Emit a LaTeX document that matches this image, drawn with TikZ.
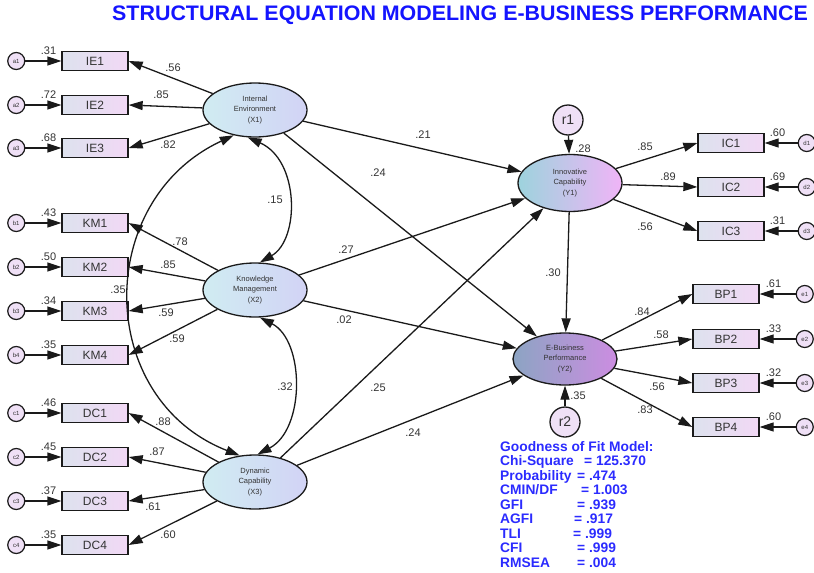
\documentclass[tikz,border=0pt]{standalone}
\usepackage{fontspec}
\setmainfont{Liberation Sans}
\usetikzlibrary{arrows.meta}
\usetikzlibrary{positioning}
\usetikzlibrary{shapes.geometric}
\definecolor{pathgrey}{HTML}{1A1A1A}
\definecolor{textgrey}{HTML}{333333}
\definecolor{exoleft}{HTML}{D0ECF2}
\definecolor{exoright}{HTML}{D2D3F5}
\definecolor{yoneleft}{HTML}{9DD3DD}
\definecolor{yoneright}{HTML}{F0B4F7}
\definecolor{ytwoleft}{HTML}{8CA4C3}
\definecolor{ytworight}{HTML}{CC8DE1}
\definecolor{itemleft}{HTML}{DDE2EE}
\definecolor{itemright}{HTML}{F2D8F5}
\definecolor{errfill}{HTML}{EFE0F6}
\definecolor{titleblue}{HTML}{1414FF}
\definecolor{fitblue}{HTML}{2B2BFF}

\begin{document}
\begin{tikzpicture}[
  x=1pt, y=-1pt,
  node distance=36pt,
  latent/.style={ellipse, draw=pathgrey, line width=1.3pt,
    minimum width=104pt, minimum height=54pt, inner sep=0pt,
    align=center, text=textgrey, font=\fontsize{7.5}{10.5}\selectfont},
  exo/.style={latent, left color=exoleft, right color=exoright},
  item/.style={rectangle, draw=pathgrey, line width=1.3pt,
    minimum width=66pt, minimum height=19pt, inner sep=0pt,
    left color=itemleft, right color=itemright,
    text=textgrey, font=\fontsize{12}{12}\selectfont},
  err/.style={circle, draw=pathgrey, line width=1.2pt, fill=errfill,
    minimum size=17pt, inner sep=0pt, text=textgrey,
    font=\fontsize{6}{6}\selectfont},
  resid/.style={circle, draw=pathgrey, line width=1.3pt, fill=errfill,
    minimum size=30pt, inner sep=0pt, text=textgrey,
    font=\fontsize{14}{14}\selectfont},
  arrow/.style={-{Triangle[length=14pt,width=9pt]}, line width=1.3pt, draw=pathgrey},
  covar/.style={{Triangle[length=14pt,width=9pt]}-{Triangle[length=14pt,width=9pt]},
    line width=1.3pt, draw=pathgrey},
  coef/.style={inner sep=0pt, text=textgrey, font=\fontsize{11}{11}\selectfont},
  fit/.style={inner sep=0pt, anchor=north west, align=left, text=fitblue,
    font=\fontsize{13.8}{14.5}\selectfont\bfseries},
]
\useasboundingbox (0,0) rectangle (814,573);

% === Title ===
\node[anchor=west, inner sep=0pt, text=titleblue, font=\fontsize{21}{21}\selectfont\bfseries]
  (title) at (112,15) {\scalebox{1.02}[1]{STRUCTURAL EQUATION MODELING E-BUSINESS PERFORMANCE}};

% === Latent variables ===
\node[exo] (X1) at (255,110) {Internal\\Environment\\(X1)};
\node[exo] (X2) at (255,290) {Knowledge\\Management\\(X2)};
\node[exo] (X3) at (255,482) {Dynamic\\Capability\\(X3)};
\node[latent, left color=yoneleft, right color=yoneright, minimum height=57pt]
  (Y1) at (570,183) {Innovative\\Capability\\(Y1)};
\node[latent, shading angle=120, left color=ytwoleft, right color=ytworight, minimum height=52pt]
  (Y2) at (565,359) {E-Business\\Performance\\(Y2)};

\node[resid] (r1) at (568,120) {r1};
\node[resid] (r2) at (565,422) {r2};

% === Indicators: Internal Environment ===
\node[item] (IE1) at (95,61) {IE1};
\node[item] (IE2) at (95,105) {IE2};
\node[item] (IE3) at (95,148) {IE3};
\node[err, left=36pt of IE1] (a1) {a1};
\node[err, left=36pt of IE2] (a2) {a2};
\node[err, left=36pt of IE3] (a3) {a3};

% === Indicators: Knowledge Management ===
\node[item] (KM1) at (95,223) {KM1};
\node[item] (KM2) at (95,267) {KM2};
\node[item] (KM3) at (95,311) {KM3};
\node[item] (KM4) at (95,355) {KM4};
\node[err, left=36pt of KM1] (b1) {b1};
\node[err, left=36pt of KM2] (b2) {b2};
\node[err, left=36pt of KM3] (b3) {b3};
\node[err, left=36pt of KM4] (b4) {b4};

% === Indicators: Dynamic Capability ===
\node[item] (DC1) at (95,413) {DC1};
\node[item] (DC2) at (95,457) {DC2};
\node[item] (DC3) at (95,501) {DC3};
\node[item] (DC4) at (95,545) {DC4};
\node[err, left=36pt of DC1] (c1) {c1};
\node[err, left=36pt of DC2] (c2) {c2};
\node[err, left=36pt of DC3] (c3) {c3};
\node[err, left=36pt of DC4] (c4) {c4};

% === Indicators: Innovative Capability ===
\node[item] (IC1) at (731,143) {IC1};
\node[item] (IC2) at (731,187) {IC2};
\node[item] (IC3) at (731,231) {IC3};
\node[err, right=33pt of IC1] (d1) {d1};
\node[err, right=33pt of IC2] (d2) {d2};
\node[err, right=33pt of IC3] (d3) {d3};

% === Indicators: E-Business Performance ===
\node[item] (BP1) at (726,294) {BP1};
\node[item] (BP2) at (726,339) {BP2};
\node[item] (BP3) at (726,383) {BP3};
\node[item] (BP4) at (726,427) {BP4};
\node[err, right=36pt of BP1] (e1) {e1};
\node[err, right=36pt of BP2] (e2) {e2};
\node[err, right=36pt of BP3] (e3) {e3};
\node[err, right=36pt of BP4] (e4) {e4};

% === Measurement arrows ===
\draw[arrow] (X1) -- (IE1.east);
\draw[arrow] (X1) -- (IE2.east);
\draw[arrow] (X1) -- (IE3.east);
\draw[arrow] (X2) -- (KM1.east);
\draw[arrow] (X2) -- (KM2.east);
\draw[arrow] (X2) -- (KM3.east);
\draw[arrow] (X2) -- (KM4.east);
\draw[arrow] (X3) -- (DC1.east);
\draw[arrow] (X3) -- (DC2.east);
\draw[arrow] (X3) -- (DC3.east);
\draw[arrow] (X3) -- (DC4.east);
\draw[arrow] (Y1) -- (IC1.west);
\draw[arrow] (Y1) -- (IC2.west);
\draw[arrow] (Y1) -- (IC3.west);
\draw[arrow] (Y2) -- (BP1.west);
\draw[arrow] (Y2) -- (BP2.west);
\draw[arrow] (Y2) -- (BP3.west);
\draw[arrow] (Y2) -- (BP4.west);

% Error terms
\draw[arrow] (a1) -- (IE1);
\draw[arrow] (a2) -- (IE2);
\draw[arrow] (a3) -- (IE3);
\draw[arrow] (b1) -- (KM1);
\draw[arrow] (b2) -- (KM2);
\draw[arrow] (b3) -- (KM3);
\draw[arrow] (b4) -- (KM4);
\draw[arrow] (c1) -- (DC1);
\draw[arrow] (c2) -- (DC2);
\draw[arrow] (c3) -- (DC3);
\draw[arrow] (c4) -- (DC4);
\draw[arrow] (d1) -- (IC1);
\draw[arrow] (d2) -- (IC2);
\draw[arrow] (d3) -- (IC3);
\draw[arrow] (e1) -- (BP1);
\draw[arrow] (e2) -- (BP2);
\draw[arrow] (e3) -- (BP3);
\draw[arrow] (e4) -- (BP4);

% === Structural paths ===
\draw[arrow] (X1) -- (Y1);
\draw[arrow] (X1) -- (Y2);
\draw[arrow] (X2) -- (Y1);
\draw[arrow] (X2) -- (Y2);
\draw[arrow] (X3) -- (Y1);
\draw[arrow] (X3) -- (Y2);
\draw[arrow] (Y1) -- (Y2);
\draw[arrow] (r1) -- (Y1);
\draw[arrow] (r2) -- (Y2);

% === Covariances ===
\draw[covar] (X1.230) .. controls +(-140,65) and +(-145,-57) .. (X3.120);
\draw[covar] (X1.255) .. controls +(52,23) and +(40,-23) .. (X2.80);
\draw[covar] (X2.280) .. controls +(45,23) and +(48,-25) .. (X3.85);

% === Variances ===
\node[coef, anchor=east] (va1) at ([xshift=-5pt]IE1.north west) {.31};
\node[coef, anchor=east] (va2) at ([xshift=-5pt]IE2.north west) {.72};
\node[coef, anchor=east] (va3) at ([xshift=-5pt]IE3.north west) {.68};
\node[coef, anchor=east] (vb1) at ([xshift=-5pt]KM1.north west) {.43};
\node[coef, anchor=east] (vb2) at ([xshift=-5pt]KM2.north west) {.50};
\node[coef, anchor=east] (vb3) at ([xshift=-5pt]KM3.north west) {.34};
\node[coef, anchor=east] (vb4) at ([xshift=-5pt]KM4.north west) {.35};
\node[coef, anchor=east] (vc1) at ([xshift=-5pt]DC1.north west) {.46};
\node[coef, anchor=east] (vc2) at ([xshift=-5pt]DC2.north west) {.45};
\node[coef, anchor=east] (vc3) at ([xshift=-5pt]DC3.north west) {.37};
\node[coef, anchor=east] (vc4) at ([xshift=-5pt]DC4.north west) {.35};
\node[coef, anchor=west] (vd1) at ([xshift=5pt]IC1.north east) {.60};
\node[coef, anchor=west] (vd2) at ([xshift=5pt]IC2.north east) {.69};
\node[coef, anchor=west] (vd3) at ([xshift=5pt]IC3.north east) {.31};
\node[coef, anchor=west] (ve1) at ([xshift=6pt]BP1.north east) {.61};
\node[coef, anchor=west] (ve2) at ([xshift=6pt]BP2.north east) {.33};
\node[coef, anchor=west] (ve3) at ([xshift=6pt]BP3.north east) {.32};
\node[coef, anchor=west] (ve4) at ([xshift=6pt]BP4.north east) {.60};

% === Loadings ===
\node[coef] (l-ie1) at (173,68) {.56};
\node[coef] (l-ie2) at (161,95) {.85};
\node[coef] (l-ie3) at (168,145) {.82};
\node[coef] (l-km1) at (180,242) {.78};
\node[coef] (l-km2) at (168,265) {.85};
\node[coef] (l-km3) at (166,313) {.59};
\node[coef] (l-km4) at (177,339) {.59};
\node[coef] (l-dc1) at (163,422) {.88};
\node[coef] (l-dc2) at (157,452) {.87};
\node[coef] (l-dc3) at (153,507) {.61};
\node[coef] (l-dc4) at (168,535) {.60};
\node[coef] (l-ic1) at (645,147) {.85};
\node[coef] (l-ic2) at (668,177) {.89};
\node[coef] (l-ic3) at (645,227) {.56};
\node[coef] (l-bp1) at (642,312) {.84};
\node[coef] (l-bp2) at (661,335) {.58};
\node[coef] (l-bp3) at (657,387) {.56};
\node[coef] (l-bp4) at (645,410) {.83};

% === Path coefficients ===
\node[coef] (p-x1y1) at (423,135) {.21};
\node[coef] (p-x1y2) at (378,173) {.24};
\node[coef] (p-x2y1) at (346,250) {.27};
\node[coef] (p-x2y2) at (344,320) {.02};
\node[coef] (p-x3y1) at (378,388) {.25};
\node[coef] (p-x3y2) at (413,433) {.24};
\node[coef] (p-y1y2) at (553,273) {.30};
\node[coef] (p-r1) at (583,149) {.28};
\node[coef] (p-r2) at (578,396) {.35};

% Covariance values
\node[coef] (c-x1x3) at (118,290) {.35};
\node[coef] (c-x1x2) at (275,200) {.15};
\node[coef] (c-x2x3) at (285,387) {.32};

% === Fit indices ===
\node[fit] (gof) at (500,441) {%
  Goodness of Fit Model:\\
  \makebox[84pt][l]{Chi-Square}= 125.370\\
  \makebox[77pt][l]{Probability}= .474\\
  \makebox[81pt][l]{CMIN/DF}= 1.003\\
  \makebox[77pt][l]{GFI}= .939\\
  \makebox[74pt][l]{AGFI}= .917\\
  \makebox[73pt][l]{TLI}= .999\\
  \makebox[77pt][l]{CFI}= .999\\
  \makebox[77pt][l]{RMSEA}= .004};

\end{tikzpicture}
\end{document}
